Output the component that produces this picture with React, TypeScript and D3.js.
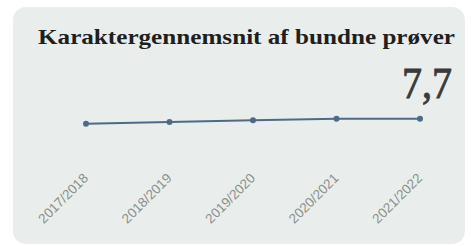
import * as d3 from "d3";

const years = ["2017/2018", "2018/2019", "2019/2020", "2020/2021", "2021/2022"];
const grades = [7.4, 7.5, 7.6, 7.7, 7.7];
const title = "Karaktergennemsnit af bundne prøver";
const latest = "7,7";

export default function App() {
  const width = 471;
  const height = 246;

  const x = d3.scalePoint().domain(years).range([86, 420]);
  const y = d3.scaleLinear().domain([0, 12]).range([247, 47]);

  const line = d3
    .line<number>()
    .x((_, i) => x(years[i]) as number)
    .y((d) => y(d));

  return (
    <svg
      width={width}
      height={height}
      style={{ position: "absolute", left: 0, top: 0, background: "#fff" }}
    >
      <rect x={13} y={7} width={452} height={237} rx={13} fill="#e9eeec" />
      <text
        x={38}
        y={44}
        fontFamily="Liberation Serif"
        fontWeight="bold"
        fontSize={22}
        fill="#1f1f1f"
        textLength={417}
        lengthAdjust="spacingAndGlyphs"
      >
        {title}
      </text>
      <text
        x={452}
        y={98}
        textAnchor="end"
        fontFamily="Liberation Serif"
        fontSize={44}
        fill="#3a3a3a"
        stroke="#3a3a3a"
        strokeWidth={0.9}
        textLength={50}
        lengthAdjust="spacingAndGlyphs"
      >
        {latest}
      </text>
      <path d={line(grades) ?? ""} fill="none" stroke="#4d6b88" strokeWidth={2} />
      {grades.map((g, i) => (
        <circle key={years[i]} cx={x(years[i])} cy={y(g)} r={3} fill="#4d6b88" />
      ))}
      {years.map((yr) => (
        <text
          key={yr}
          transform={`translate(${(x(yr) as number) + 3}, 179) rotate(-45)`}
          textAnchor="end"
          fontFamily="Liberation Sans"
          fontSize={13.5}
          fill="#8a8f8d"
        >
          {yr}
        </text>
      ))}
    </svg>
  );
}
